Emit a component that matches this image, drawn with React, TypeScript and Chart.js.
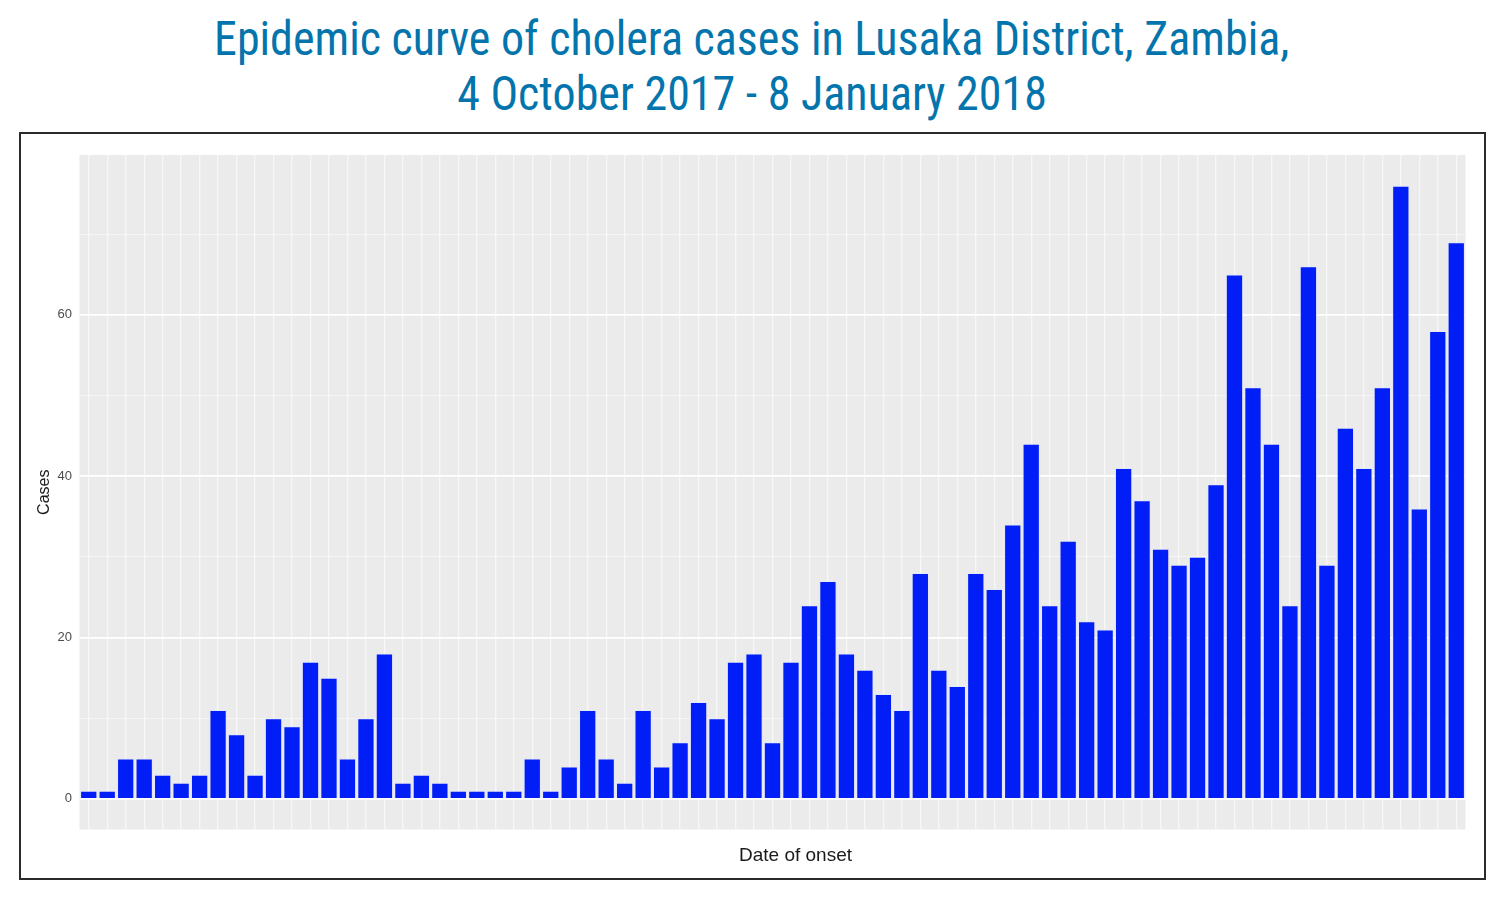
import React, { useEffect, useLayoutEffect, useRef } from 'react';
import { Chart, registerables } from 'chart.js';

Chart.register(...registerables);

// ---- data ----
const titleLines = [
  'Epidemic curve of cholera cases in Lusaka District, Zambia,',
  '4 October 2017 - 8 January 2018',
];
const yAxisTitle = 'Cases';
const xAxisTitle = 'Date of onset';
const cases = [
  1, 1, 5, 5, 3, 2, 3, 11, 8, 3, 10, 9, 17, 15, 5, 10, 18, 2, 3, 2, 1, 1, 1, 1, 5,
  1, 4, 11, 5, 2, 11, 4, 7, 12, 10, 17, 18, 7, 17, 24, 27, 18, 16, 13, 11, 28, 16, 14, 28, 26,
  34, 44, 24, 32, 22, 21, 41, 37, 31, 29, 30, 39, 65, 51, 44, 24, 66, 29, 46, 41, 51, 76, 36, 58, 69,
];
const onsetLabels = cases.map((_, i) => `Day ${i + 1}`);
const yTickLabels = [0, 20, 40, 60];
const yMin = -3.8;
const yMax = 79.8;

const axisFont = "'Liberation Sans', Arial, 'DejaVu Sans', sans-serif";
const titleFont =
  "'Roboto Condensed', 'Liberation Sans Narrow', 'DejaVu Sans Condensed', Roboto, 'Liberation Sans', sans-serif";

const panelBg = {
  id: 'panelBg',
  beforeDraw(chart: any) {
    const { ctx, chartArea } = chart;
    if (!chartArea) return;
    ctx.save();
    ctx.fillStyle = '#EBEBEB';
    ctx.fillRect(chartArea.left, chartArea.top, chartArea.right - chartArea.left, chartArea.bottom - chartArea.top);
    ctx.restore();
  },
};

export default function App() {
  const canvasRef = useRef<HTMLCanvasElement>(null);
  const t1 = useRef<HTMLSpanElement>(null);
  const t2 = useRef<HTMLSpanElement>(null);

  useLayoutEffect(() => {
    const fit = () => {
      if (!t1.current || !t2.current) return;
      const w = t1.current.offsetWidth;
      if (!w) return;
      const s = 1075 / w;
      t1.current.style.transform = `scaleX(${s})`;
      t2.current.style.transform = `scaleX(${s})`;
    };
    fit();
    (document as any).fonts?.ready?.then(fit);
  }, []);

  useEffect(() => {
    if (!canvasRef.current) return;
    const chart = new Chart(canvasRef.current, {
      type: 'bar',
      data: {
        labels: onsetLabels,
        datasets: [
          {
            label: yAxisTitle,
            data: cases,
            backgroundColor: '#001EF5',
            borderColor: 'rgba(225,228,255,0.75)',
            borderWidth: 1,
            barPercentage: 0.935,
            categoryPercentage: 1,
          },
        ],
      },
      options: {
        responsive: false,
        animation: false,
        events: [],
        layout: { padding: { top: 21, right: 18.5, left: 0, bottom: 0 } },
        plugins: {
          legend: { display: false },
          tooltip: { enabled: false },
          title: { display: false },
        },
        scales: {
          x: {
            type: 'category',
            offset: true,
            grid: { offset: false, color: '#F7F7F7', lineWidth: 1.3, drawTicks: false },
            border: { display: false },
            ticks: { display: false, autoSkip: false },
            afterFit: (s: any) => {
              s.height = 48.5;
            },
          },
          y: {
            min: yMin,
            max: yMax,
            ticks: {
              includeBounds: false,
              stepSize: 10,
              padding: 7.5,
              color: '#4D4D4D',
              font: { size: 13, family: axisFont },
              callback: (v: any) => (yTickLabels.includes(Number(v)) ? String(v) : ''),
            },
            grid: {
              drawTicks: false,
              color: (ctx: any) => (ctx.tick && ctx.tick.value % 20 === 0 ? '#FFFFFF' : '#F6F6F6'),
              lineWidth: (ctx: any) => (ctx.tick && ctx.tick.value % 20 === 0 ? 1.8 : 0.9),
            },
            border: { display: false },
            title: {
              display: true,
              text: yAxisTitle,
              color: '#1A1A1A',
              font: { size: 16, family: axisFont },
              padding: { top: 14, bottom: 0 },
            },
            afterFit: (s: any) => {
              s.width = 58.5;
            },
          },
        },
      },
      plugins: [panelBg],
    } as any);
    return () => chart.destroy();
  }, []);

  return (
    <div style={{ position: 'absolute', left: 0, top: 0, width: 1500, height: 904, background: '#FFFFFF', overflow: 'hidden' }}>
      <div
        style={{
          position: 'absolute',
          left: 2,
          top: 11,
          width: 1500,
          textAlign: 'center',
          fontFamily: titleFont,
          fontSize: 49,
          lineHeight: '55px',
          color: '#0474AC',
          whiteSpace: 'nowrap',
        }}
      >
        <div>
          <span ref={t1} style={{ display: 'inline-block', transformOrigin: 'center' }}>
            {titleLines[0]}
          </span>
        </div>
        <div>
          <span ref={t2} style={{ display: 'inline-block', transformOrigin: 'center' }}>
            {titleLines[1]}
          </span>
        </div>
      </div>
      <div
        style={{
          position: 'absolute',
          left: 19,
          top: 132,
          width: 1467,
          height: 748,
          boxSizing: 'border-box',
          border: '2px solid #2B2B2B',
        }}
      >
        <canvas ref={canvasRef} width={1463} height={744} style={{ position: 'absolute', left: 0, top: 0, width: 1463, height: 744 }} />
      </div>
      <div
        style={{
          position: 'absolute',
          left: 645.5,
          top: 845,
          width: 300,
          textAlign: 'center',
          fontFamily: axisFont,
          fontSize: 19,
          lineHeight: '19px',
          color: '#1A1A1A',
          whiteSpace: 'nowrap',
        }}
      >
        {xAxisTitle}
      </div>
    </div>
  );
}
